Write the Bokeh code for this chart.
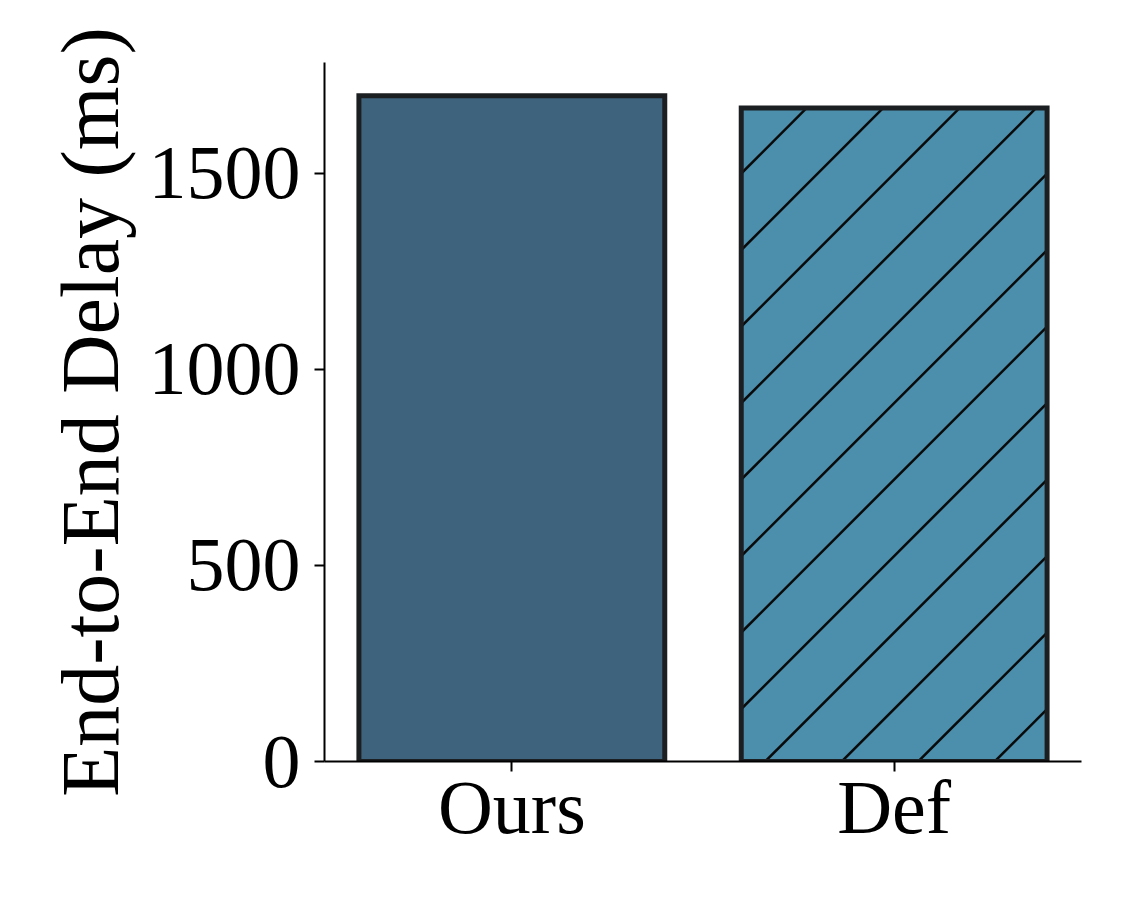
import math
from bokeh.plotting import figure
from bokeh.models import Range1d, ColumnDataSource, FixedTicker
from bokeh.embed import file_html
from bokeh.resources import INLINE

categories = ["Ours", "Def"]
delays = [1698, 1667]
fill_colors = ["#3e637d", "#4b8fad"]
hatches = ["", "/"]
y_ticks = [0, 500, 1000, 1500]

FONT = "Liberation Serif"
BAR_W = 0.8
X_START, X_END = -0.49, len(categories) - 1 + 0.49
Y_START, Y_END = 0, 1783
FRAME_W, FRAME_H = 757, 699
HATCH_SPACING_PX = 76.5   # horizontal distance between hatch lines
HATCH_PHASE_PX = 24

xs = list(range(len(categories)))
source = ColumnDataSource(dict(x=xs, val=delays, color=fill_colors))

p = figure(
    x_range=Range1d(X_START, X_END),
    y_range=Range1d(Y_START, Y_END),
    frame_width=FRAME_W, frame_height=FRAME_H,
    min_border_left=324, min_border_right=53, min_border_top=62, min_border_bottom=145,
    output_backend="svg", toolbar_location=None,
)

# bar fills
p.vbar(x="x", top="val", width=BAR_W, source=source, fill_color="color", line_color=None)

# 45-degree hatch lines, computed from each bar's data extent
kx = FRAME_W / (X_END - X_START)
ky = FRAME_H / (Y_END - Y_START)
hx0, hy0, hx1, hy1 = [], [], [], []
for i, (val, pat) in enumerate(zip(delays, hatches)):
    if pat != "/":
        continue
    W = BAR_W * kx
    H = val * ky
    kmin = math.floor((-H - HATCH_PHASE_PX) / HATCH_SPACING_PX)
    kmax = math.ceil((W - HATCH_PHASE_PX) / HATCH_SPACING_PX)
    for k in range(kmin, kmax + 1):
        d = HATCH_PHASE_PX + k * HATCH_SPACING_PX
        xs_ = max(0.0, d)
        xe_ = min(W, H + d)
        if xe_ <= xs_:
            continue
        left = i - BAR_W / 2
        hx0.append(left + xs_ / kx)
        hy0.append((xs_ - d) / ky)
        hx1.append(left + xe_ / kx)
        hy1.append((xe_ - d) / ky)
p.segment(x0=hx0, y0=hy0, x1=hx1, y1=hy1, line_color="#0a0a0a", line_width=2.5)

# bar outlines
p.vbar(x="x", top="val", width=BAR_W, source=source, fill_color=None,
       line_color="#1c1f21", line_width=5, line_join="miter")

p.xgrid.visible = False
p.ygrid.visible = False
p.outline_line_color = None
p.background_fill_color = "white"
p.border_fill_color = "white"

for ax in (p.xaxis[0], p.yaxis[0]):
    ax.axis_line_width = 2
    ax.axis_line_color = "black"
    ax.major_tick_line_width = 2
    ax.major_tick_line_color = "black"
    ax.major_tick_out = 10
    ax.major_tick_in = 0
    ax.minor_tick_line_color = None
    ax.major_label_text_font = FONT
    ax.major_label_text_font_size = "76px"
    ax.major_label_text_color = "black"

p.xaxis.ticker = FixedTicker(ticks=xs)
p.xaxis.major_label_overrides = {i: c for i, c in enumerate(categories)}
p.xaxis.major_label_standoff = -7

p.yaxis.ticker = FixedTicker(ticks=y_ticks)
p.yaxis.major_label_standoff = 14
p.yaxis.axis_label = "End-to-End Delay (ms)"
p.yaxis.axis_label_text_font = FONT
p.yaxis.axis_label_text_font_size = "82px"
p.yaxis.axis_label_text_font_style = "normal"
p.yaxis.axis_label_text_color = "black"
p.yaxis.axis_label_standoff = 10

open("out.html", "w").write(file_html(p, INLINE))
